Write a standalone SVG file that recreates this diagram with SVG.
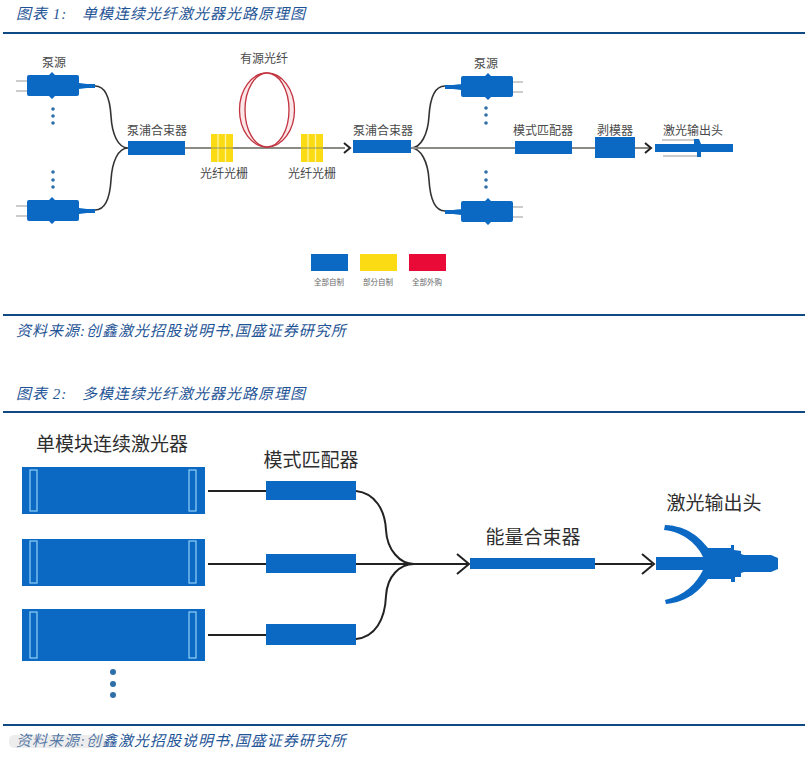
<svg xmlns="http://www.w3.org/2000/svg" width="812" height="757" viewBox="0 0 812 757">
<defs>
<style>
text{font-family:"Noto Sans CJK SC","Noto Sans",sans-serif;text-anchor:middle;fill:#3a3a3a}
.cap{font-family:"Liberation Serif","Noto Sans CJK SC",serif;font-style:italic;font-size:15px;letter-spacing:1px;text-anchor:start;fill:#1f5596}
.s{font-size:12px;fill:#4a4a4a}
.l{font-size:19px;fill:#2e2e2e}
.k{font-size:7.5px;fill:#666}
.b{fill:#0b69c4}
.rule{stroke:#0f4a85;stroke-width:2;fill:none}
.fg{fill:none;stroke:#8a8a86;stroke-width:2}
.fb{fill:none;stroke:#333;stroke-width:1.6}
.fk{fill:none;stroke:#222;stroke-width:2}
.pr{stroke:#999;stroke-width:1.2;fill:none}
.dot{fill:#2f6fa8}
.chev{fill:none;stroke:#222;stroke-width:2}
.win{fill:none;stroke:#8fd0f5;stroke-width:1.2}
</style>
<g id="pumpL"><path class="pr" d="M-11 6H0M-11 16H0"/><path class="b" d="M0 2Q0 0 2 0H22L25 -3L28 0H50Q52 0 52 2V19Q52 21 50 21H28L25 24L22 21H2Q0 21 0 19ZM52 8L60 9H68V13H60L52 14Z"/></g>
<g id="pumpR"><path class="pr" d="M52 6H62M52 16H62"/><path class="b" d="M0 2Q0 0 2 0H24L27 -3L30 0H50Q52 0 52 2V19Q52 21 50 21H30L27 24L24 21H2Q0 21 0 19ZM0 8L-8 9H-16V13H-8L0 14Z"/></g>
<g id="fbg"><rect x="0" y="0" width="22" height="28" fill="#fbdc14"/><path d="M7 0V28M14.500 0V28" stroke="#fff3a8" stroke-width="1.300"/><path d="M0 14H22" stroke="#8a8a66" stroke-width="1.500" opacity=".6"/></g>
</defs>
<rect width="812" height="757" fill="#fff"/>

<g id="captions">
<text class="cap" x="16" y="19">图表 1:<tspan x="82">单模连续光纤激光器光路原理图</tspan></text>
<text class="cap" x="16" y="336">资料来源:创鑫激光招股说明书,国盛证券研究所</text>
<text class="cap" x="16" y="399">图表 2:<tspan x="82">多模连续光纤激光器光路原理图</tspan></text>
<text class="cap" x="16" y="746">资料来源:创鑫激光招股说明书,国盛证券研究所</text>
<path class="rule" d="M3 33H805M3 315H805M3 412H805M3 725H805"/>
</g>

<g id="connectors">
<path class="fb" d="M95 86C106 86 110 100 111 116C112 134 118 148 128 148C118 148 112 162 111 180C110 196 106 210 95 210"/>
<path class="fg" d="M185 148H345"/>
<path class="chev" d="M344 143L350 148L344 153"/>
<path class="fb" d="M445 86C434 86 430 100 429 116C428 134 421 148 411 148C421 148 428 162 429 180C430 196 434 211 445 211"/>
<path class="fg" d="M411 148H515M572 148H595M635 148H650"/>
<path class="chev" d="M645 143L651 148L645 153"/>
<path class="fk" d="M208 491H266M208 564H266M208 635H266M356 564H468M595 564H652"/>
<path class="fk" d="M356 491C375 493 385 510 386 530C387 550 400 564 414 564C400 564 387 576 386 596C385 620 375 637 356 639"/>
<path class="chev" d="M457 554L469 564L457 574M642 554L654 564L642 574" stroke-width="2.200"/>
</g>

<g id="pump1"><text class="s" x="54" y="67">泵源</text><use href="#pumpL" x="27" y="75"/></g>
<g id="pump2"><use href="#pumpL" x="27" y="200"/></g>
<g id="dots1"><circle class="dot" cx="53" cy="109" r="1.800"/><circle class="dot" cx="53" cy="116" r="1.800"/><circle class="dot" cx="53" cy="123" r="1.800"/><circle class="dot" cx="53" cy="172" r="1.800"/><circle class="dot" cx="53" cy="180" r="1.800"/><circle class="dot" cx="53" cy="187" r="1.800"/></g>
<g id="combiner1"><text class="s" x="157" y="135">泵浦合束器</text><rect class="b" x="128" y="141" width="57" height="14"/></g>
<g id="fbg1"><use href="#fbg" x="211" y="134"/><text class="s" x="224" y="178">光纤光栅</text></g>
<g id="gain"><text class="s" x="264" y="63">有源光纤</text>
<ellipse cx="267" cy="110" rx="27.500" ry="37" fill="#fbe6e8" stroke="#c2323f" stroke-width="1.300"/>
<ellipse cx="267" cy="110" rx="22" ry="37" fill="#fff" stroke="#c2323f" stroke-width="1.300"/></g>
<g id="fbg2"><use href="#fbg" x="301" y="134"/><text class="s" x="312" y="178">光纤光栅</text></g>
<g id="combiner2"><text class="s" x="383" y="135">泵浦合束器</text><rect class="b" x="353" y="140" width="58" height="13"/></g>
<g id="pump3"><text class="s" x="486" y="68">泵源</text><use href="#pumpR" x="461" y="76"/></g>
<g id="pump4"><use href="#pumpR" x="461" y="201"/></g>
<g id="dots2"><circle class="dot" cx="486" cy="108" r="1.800"/><circle class="dot" cx="486" cy="115" r="1.800"/><circle class="dot" cx="486" cy="123" r="1.800"/><circle class="dot" cx="486" cy="172" r="1.800"/><circle class="dot" cx="486" cy="180" r="1.800"/><circle class="dot" cx="486" cy="187" r="1.800"/></g>
<g id="matcher1"><text class="s" x="543" y="135">模式匹配器</text><rect class="b" x="515" y="141" width="57" height="13"/></g>
<g id="stripper"><text class="s" x="615" y="135">剥模器</text><rect class="b" x="595" y="137" width="40" height="21"/></g>
<g id="head1"><text class="s" x="693" y="135">激光输出头</text>
<path class="pr" d="M662 140H695M663 156H700"/>
<path class="b" d="M655 144H694V139H699L701 144H733V152H701V157H697V152H655Z"/></g>

<g id="legend">
<rect class="b" x="311" y="254" width="37" height="17"/><text class="k" x="329" y="285">全部自制</text>
<rect x="360" y="254" width="37" height="17" fill="#fbdc14"/><text class="k" x="378" y="285">部分自制</text>
<rect x="409" y="254" width="37" height="17" fill="#ea0a38"/><text class="k" x="427" y="285">全部外购</text>
</g>

<g id="laser1"><text class="l" x="112" y="451">单模块连续激光器</text><rect class="b" x="22" y="467" width="183" height="47"/><rect class="win" x="30" y="470" width="7" height="41"/><rect class="win" x="189" y="470" width="7" height="41"/></g>
<g id="laser2"><rect class="b" x="22" y="539" width="183" height="47"/><rect class="win" x="30" y="541" width="7" height="42"/><rect class="win" x="189" y="541" width="7" height="42"/></g>
<g id="laser3"><rect class="b" x="22" y="609" width="183" height="52"/><rect class="win" x="30" y="612" width="7" height="46"/><rect class="win" x="189" y="612" width="7" height="46"/></g>
<g id="dots3"><circle class="dot" cx="113" cy="672" r="3"/><circle class="dot" cx="113" cy="684" r="3"/><circle class="dot" cx="113" cy="695" r="3"/></g>
<g id="matcherA"><text class="l" x="311" y="467">模式匹配器</text><rect class="b" x="266" y="481" width="90" height="19"/></g>
<g id="matcherB"><rect class="b" x="266" y="554" width="90" height="19"/></g>
<g id="matcherC"><rect class="b" x="266" y="624" width="90" height="21"/></g>
<g id="combiner3"><text class="l" x="533" y="544">能量合束器</text><rect class="b" x="470" y="558" width="125" height="11"/></g>
<g id="head2"><text class="l" x="714" y="510">激光输出头</text>
<path class="b" d="M656 557H703C698 546 685 532 664 530L665 525C688 526 700 538 708 548H731V545H734V550L741 551V554L744 555H771L778 558V569L771 572H744L741 573V577H735V582H731V579H708C700 590 688 602 666 604L665 600C684 596 697 583 703 570H656Z"/></g>

<g id="watermark" opacity=".55"><rect x="9" y="735" width="96" height="13" rx="5" fill="#ccc" opacity=".6"/></g>
</svg>
